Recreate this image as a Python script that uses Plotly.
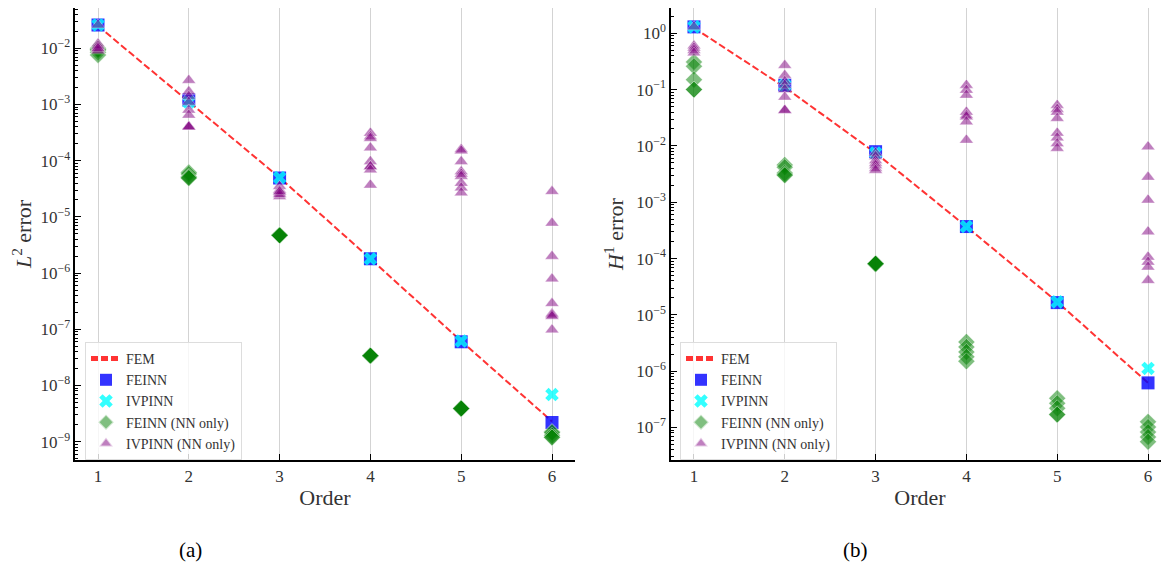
import plotly.graph_objects as go

orders = [1, 2, 3, 4, 5, 6]

# ---- L2 error (panel a) ----
fem_l2 = [2.5e-2, 1.1e-3, 5.0e-5, 1.8e-6, 6.2e-8, 2.3e-9]
feinn_l2 = [2.6e-2, 1.2e-3, 4.9e-5, 1.8e-6, 6.0e-8, 2.2e-9]
ivpinn_l2 = [2.6e-2, 1.1e-3, 5.0e-5, 1.8e-6, 6.2e-8, 6.9e-9]
feinn_nn_l2 = {
    1: [1.0e-2, 9.5e-3, 9.3e-3, 8.5e-3, 7.6e-3],
    2: [6.2e-5, 5.8e-5, 5.2e-5, 5.0e-5, 4.9e-5],
    3: [4.7e-6, 4.7e-6, 4.7e-6, 4.7e-6, 4.7e-6],
    4: [3.4e-8, 3.4e-8, 3.4e-8, 3.4e-8, 3.4e-8],
    5: [3.9e-9, 3.9e-9, 3.9e-9, 3.9e-9, 3.9e-9],
    6: [1.5e-9, 1.45e-9, 1.3e-9, 1.2e-9, 1.2e-9],
}
ivpinn_nn_l2 = {
    1: [2.6e-2, 1.2e-2, 1.05e-2, 1.0e-2, 9.5e-3, 9.0e-3, 1.1e-2, 1.0e-2],
    2: [2.7e-3, 1.7e-3, 1.4e-3, 1.1e-3, 8e-4, 6.5e-4, 4e-4, 4e-4, 4e-4],
    3: [3.5e-5, 3.0e-5, 2.85e-5, 2.6e-5, 2.3e-5, 2.5e-5, 2.8e-5],
    4: [3.1e-4, 2.7e-4, 2.5e-4, 1.7e-4, 9.7e-5, 7.9e-5, 7.9e-5, 6.9e-5, 3.7e-5],
    5: [1.6e-4, 1.5e-4, 9.7e-5, 6.4e-5, 5.8e-5, 5.3e-5, 4.0e-5, 3.3e-5, 2.7e-5],
    6: [2.85e-5, 7.8e-6, 2.0e-6, 7.9e-7, 2.9e-7, 1.9e-7, 1.8e-7, 1.7e-7, 9.8e-8],
}
l2_tickvals = [1e-9, 1e-8, 1e-7, 1e-6, 1e-5, 1e-4, 1e-3, 1e-2]
l2_ticktext = ["10<sup>−9</sup>", "10<sup>−8</sup>", "10<sup>−7</sup>", "10<sup>−6</sup>",
               "10<sup>−5</sup>", "10<sup>−4</sup>", "10<sup>−3</sup>", "10<sup>−2</sup>"]

# ---- H1 error (panel b) ----
fem_h1 = [1.25, 0.11, 7.5e-3, 3.7e-4, 1.7e-5, 6.2e-7]
feinn_h1 = [1.3, 0.12, 7.9e-3, 3.7e-4, 1.65e-5, 6.2e-7]
ivpinn_h1 = [1.3, 0.12, 7.5e-3, 3.7e-4, 1.7e-5, 1.12e-6]
feinn_nn_h1 = {
    1: [0.31, 0.26, 0.15, 0.1, 0.1],
    2: [4.6e-3, 4.2e-3, 3.3e-3, 3.1e-3, 3.0e-3],
    3: [8.1e-5, 8.1e-5, 8.1e-5, 8.1e-5, 8.1e-5],
    4: [3.3e-6, 2.7e-6, 2.2e-6, 1.8e-6, 1.5e-6],
    5: [3.3e-7, 2.7e-7, 2.2e-7, 1.7e-7, 1.7e-7],
    6: [1.26e-7, 1.02e-7, 8.3e-8, 6.8e-8, 5.6e-8],
}
ivpinn_nn_h1 = {
    1: [1.3, 0.6, 0.55, 0.5, 0.45],
    2: [0.27, 0.18, 0.14, 0.12, 0.1, 0.074, 0.043, 0.043],
    3: [7.5e-3, 6.5e-3, 5.5e-3, 4.9e-3, 4.5e-3, 4.0e-3, 3.7e-3],
    4: [0.12, 0.098, 0.08, 0.04, 0.035, 0.033, 0.027, 0.0127],
    5: [0.053, 0.045, 0.04, 0.031, 0.017, 0.014, 0.011, 0.0091],
    6: [9.7e-3, 2.8e-3, 1.1e-3, 3.0e-4, 1.07e-4, 8.7e-5, 7.1e-5, 4.1e-5],
}
h1_tickvals = [1e-7, 1e-6, 1e-5, 1e-4, 1e-3, 1e-2, 1e-1, 1e0]
h1_ticktext = ["10<sup>−7</sup>", "10<sup>−6</sup>", "10<sup>−5</sup>", "10<sup>−4</sup>",
               "10<sup>−3</sup>", "10<sup>−2</sup>", "10<sup>−1</sup>", "10<sup>0</sup>"]

SERIF = "Liberation Serif"
TXT = "#333333"


def flat(d):
    xs, ys = [], []
    for k, vals in d.items():
        for v in vals:
            xs.append(k)
            ys.append(v)
    return xs, ys


fig = go.Figure()


def add_panel(fem, feinn, ivpinn, feinn_nn, ivpinn_nn, xa, ya, leg):
    fig.add_trace(go.Scatter(x=orders, y=fem, mode="lines", name="FEM",
                             line=dict(color="rgba(255,0,0,0.8)", width=2, dash="7px,3px"),
                             xaxis=xa, yaxis=ya, legend=leg))
    fig.add_trace(go.Scatter(x=orders, y=feinn, mode="markers", name="FEINN",
                             marker=dict(symbol="square", size=13, color="rgba(0,0,255,0.8)", line=dict(width=0)),
                             xaxis=xa, yaxis=ya, legend=leg))
    fig.add_trace(go.Scatter(x=orders, y=ivpinn, mode="markers", name="IVPINN",
                             marker=dict(symbol="x", size=12, color="rgba(0,255,255,0.8)", line=dict(width=0)),
                             xaxis=xa, yaxis=ya, legend=leg))
    x, y = flat(feinn_nn)
    fig.add_trace(go.Scatter(x=x, y=y, mode="markers", name="FEINN (NN only)",
                             marker=dict(symbol="diamond", size=13, color="rgba(0,128,0,0.5)",
                                         line=dict(width=0.6, color="rgba(255,255,255,0.6)")),
                             xaxis=xa, yaxis=ya, legend=leg))
    x, y = flat(ivpinn_nn)
    fig.add_trace(go.Scatter(x=x, y=y, mode="markers", name="IVPINN (NN only)",
                             marker=dict(symbol="triangle-up", size=12, color="rgba(128,0,128,0.5)",
                                         line=dict(width=0.6, color="rgba(255,255,255,0.6)")),
                             xaxis=xa, yaxis=ya, legend=leg))


add_panel(fem_l2, feinn_l2, ivpinn_l2, feinn_nn_l2, ivpinn_nn_l2, "x", "y", "legend")
add_panel(fem_h1, feinn_h1, ivpinn_h1, feinn_nn_h1, ivpinn_nn_h1, "x2", "y2", "legend2")

# page has an 8px body margin: figure coordinates = page coordinates - 8
OFF = 8
W, H = 1169 - OFF, 570 - OFF


def px(xp):
    return (xp - OFF) / W


def py(yp):
    return 1 - (yp - OFF) / H


top = 1.0          # page y = 8
bot = py(460)

xcommon = dict(tickvals=orders, showgrid=True, gridcolor="#d3d3d3", gridwidth=1.3,
               zeroline=False, showline=True, linecolor="black", linewidth=1.5,
               ticks="inside", ticklen=6, tickwidth=1.3, tickcolor="black", automargin=False,
               tickfont=dict(family=SERIF, size=17, color=TXT),
               title=dict(text="Order", font=dict(family=SERIF, size=22, color=TXT), standoff=4))
ycommon = dict(type="log", showgrid=False, zeroline=False, showline=True, linecolor="black", linewidth=1.5,
               ticks="inside", ticklen=6, tickwidth=1.3, tickcolor="black", automargin=False,
               tickfont=dict(family=SERIF, size=17, color=TXT),
               minor=dict(ticks="inside", ticklen=3, tickwidth=1, tickcolor="black", dtick="D1", showgrid=False))

legcommon = dict(bgcolor="rgba(255,255,255,0.8)", bordercolor="#dddddd", borderwidth=1,
                 font=dict(family=SERIF, size=14, color=TXT),
                 entrywidth=142, entrywidthmode="pixels",
                 xanchor="left", yanchor="top", tracegroupgap=0, itemsizing="constant")

fig.update_layout(
    width=W, height=H,
    margin=dict(l=0, r=0, t=0, b=0),
    plot_bgcolor="white", paper_bgcolor="white",
    xaxis=dict(domain=[px(75.3), px(574.7)], anchor="y", range=[0.75, 6.25], **xcommon),
    yaxis=dict(domain=[bot, top], anchor="x", range=[-9.325, -1.283],
               tickvals=l2_tickvals, ticktext=l2_ticktext,
               title=dict(text="<i>L</i><sup>2</sup> error", font=dict(family=SERIF, size=22, color=TXT), standoff=6),
               **ycommon),
    xaxis2=dict(domain=[px(671), 1.0], anchor="y2", range=[0.747, 6.231], **xcommon),
    yaxis2=dict(domain=[bot, top], anchor="x2", range=[-7.577, 0.449],
                tickvals=h1_tickvals, ticktext=h1_ticktext,
                title=dict(text="<i>H</i><sup>1</sup> error", font=dict(family=SERIF, size=22, color=TXT), standoff=6),
                **ycommon),
    legend=dict(x=px(85), y=py(342), **legcommon),
    legend2=dict(x=px(680), y=py(342), **legcommon),
    annotations=[
        dict(text="(a)", x=px(190), y=py(550), xref="paper", yref="paper", showarrow=False,
             font=dict(family=SERIF, size=21, color="black"), xanchor="center", yanchor="middle"),
        dict(text="(b)", x=px(855), y=py(550), xref="paper", yref="paper", showarrow=False,
             font=dict(family=SERIF, size=21, color="black"), xanchor="center", yanchor="middle"),
    ],
)

fig.write_html("out.html")
